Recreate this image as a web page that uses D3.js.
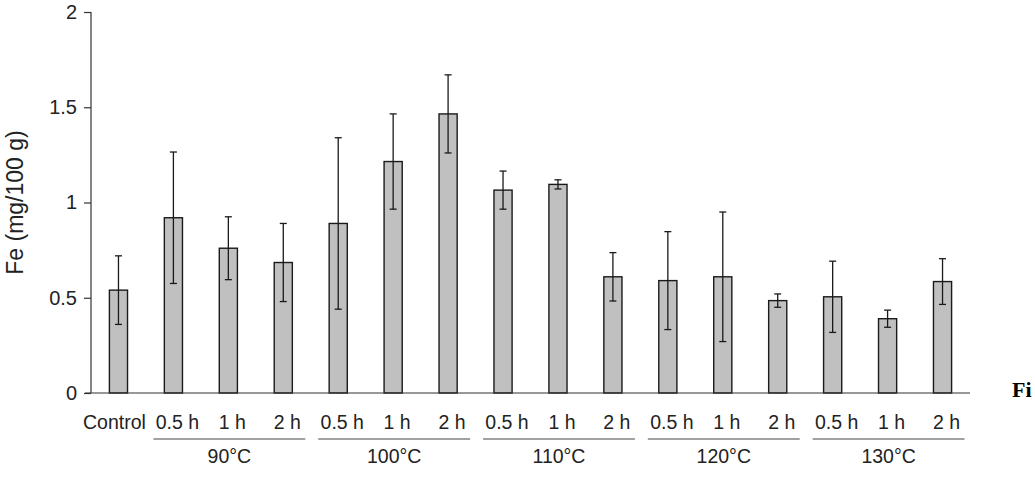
<!DOCTYPE html>
<html>
<head>
<meta charset="utf-8">
<script src="https://cdn.jsdelivr.net/npm/d3@7"></script>
<style>
  body { margin: 0; background: #fff; }
  svg { display: block; }
  text { fill: #222; }
</style>
</head>
<body>
<div id="chart-area"></div>
<script>
// DATA
var labels = ["Control", "0.5 h", "1 h", "2 h", "0.5 h", "1 h", "2 h", "0.5 h", "1 h", "2 h",
              "0.5 h", "1 h", "2 h", "0.5 h", "1 h", "2 h"];
var feMeans = [0.54, 0.92, 0.76, 0.685, 0.89, 1.215, 1.465, 1.065, 1.095, 0.61,
               0.59, 0.61, 0.485, 0.505, 0.39, 0.585];
var feErrors = [0.18, 0.345, 0.165, 0.205, 0.45, 0.25, 0.205, 0.10, 0.024, 0.127,
                0.257, 0.34, 0.035, 0.187, 0.045, 0.12];
var groups = ["90°C", "100°C", "110°C", "120°C", "130°C"];
var groupStart = [1, 4, 7, 10, 13];   // index of first bar in each group
var yTicks = [0, 0.5, 1, 1.5, 2];

var W = 1035, H = 484;
var margin = { left: 91, right: 65, top: 12, bottom: 91 };
var width = W - margin.left - margin.right,
    height = H - margin.top - margin.bottom;
var sans = "'Liberation Sans', Arial, sans-serif";

var svg = d3.select("#chart-area")
    .append("svg")
        .attr("width", W)
        .attr("height", H);

var g = svg.append("g")
    .attr("transform", "translate(" + margin.left + "," + margin.top + ")");

// SCALES
var x = d3.scaleBand()
    .domain(d3.range(labels.length))
    .range([0, width])
    .paddingInner(0.67)
    .paddingOuter(0.335);

var y = d3.scaleLinear()
    .domain([0, 2])
    .range([height, 0]);

// BARS
g.selectAll("rect.bar")
    .data(feMeans)
    .enter().append("rect")
        .attr("class", "bar")
        .attr("x", function(d, i) { return x(i); })
        .attr("y", function(d) { return y(d); })
        .attr("width", x.bandwidth())
        .attr("height", function(d) { return height - y(d); })
        .attr("fill", "#c0c0c0")
        .attr("stroke", "#1a1a1a")
        .attr("stroke-width", 1.4);

// ERROR BARS
var cx = function(i) { return x(i) + x.bandwidth() / 2; };
var err = g.selectAll("g.err")
    .data(feMeans)
    .enter().append("g")
        .attr("class", "err")
        .attr("stroke", "#1a1a1a")
        .attr("stroke-width", 1.3);

err.append("line")
    .attr("x1", function(d, i) { return cx(i); })
    .attr("x2", function(d, i) { return cx(i); })
    .attr("y1", function(d, i) { return y(d + feErrors[i]); })
    .attr("y2", function(d, i) { return y(d - feErrors[i]); });

[1, -1].forEach(function(s) {
    err.append("line")
        .attr("x1", function(d, i) { return cx(i) - 3.5; })
        .attr("x2", function(d, i) { return cx(i) + 3.5; })
        .attr("y1", function(d, i) { return y(d + s * feErrors[i]); })
        .attr("y2", function(d, i) { return y(d + s * feErrors[i]); });
});

// Y AXIS
var yAxisCall = d3.axisLeft(y)
    .tickValues(yTicks)
    .tickSize(7)
    .tickPadding(7)
    .tickFormat(function(d) { return +d; });
var yAxis = g.append("g")
    .attr("class", "y axis")
    .call(yAxisCall);
yAxis.select(".domain").attr("d", "M0,0V" + height).attr("stroke", "#333").attr("stroke-width", 1.2);
yAxis.selectAll(".tick line").attr("stroke", "#333").attr("stroke-width", 1.2);
yAxis.selectAll(".tick text")
    .attr("font-size", "20px")
    .attr("font-family", sans)
    .attr("fill", "#222");

// X AXIS LINE (no ticks)
g.append("line")
    .attr("x1", -6)
    .attr("x2", width)
    .attr("y1", height)
    .attr("y2", height)
    .attr("stroke", "#333")
    .attr("stroke-width", 1.2);

// Y LABEL
g.append("text")
    .attr("transform", "rotate(-90)")
    .attr("x", -(y(1.0)))
    .attr("y", -68)
    .attr("font-size", "23px")
    .attr("font-family", sans)
    .attr("text-anchor", "middle")
    .text("Fe (mg/100 g)");

// CATEGORY LABELS
g.selectAll("text.cat")
    .data(labels)
    .enter().append("text")
        .attr("class", "cat")
        .attr("x", function(d, i) { return cx(i) + (i === 0 ? -4 : 4); })
        .attr("y", height + 36)
        .attr("font-size", "19.5px")
        .attr("font-family", sans)
        .attr("fill", "#2a2a2a")
        .attr("text-anchor", "middle")
        .text(function(d) { return d; });

// GROUP UNDERLINES + LABELS
groups.forEach(function(grp, k) {
    var first = groupStart[k], last = first + 2;
    g.append("line")
        .attr("x1", cx(first) - 20)
        .attr("x2", cx(last) + 22)
        .attr("y1", height + 46)
        .attr("y2", height + 46)
        .attr("stroke", "#444")
        .attr("stroke-width", 1.2);
    g.append("text")
        .attr("x", cx(first + 1) + 1)
        .attr("y", height + 70)
        .attr("font-size", "19.5px")
        .attr("font-family", sans)
        .attr("text-anchor", "middle")
        .text(grp);
});

// FIGURE CAPTION FRAGMENT (cut off at right edge)
svg.append("text")
    .attr("x", 1012)
    .attr("y", 397)
    .style("font-family", "'Liberation Serif', 'Times New Roman', serif")
    .style("font-weight", "bold")
    .style("font-size", "22px")
    .style("fill", "#000")
    .text("Fi");
</script>
</body>
</html>
